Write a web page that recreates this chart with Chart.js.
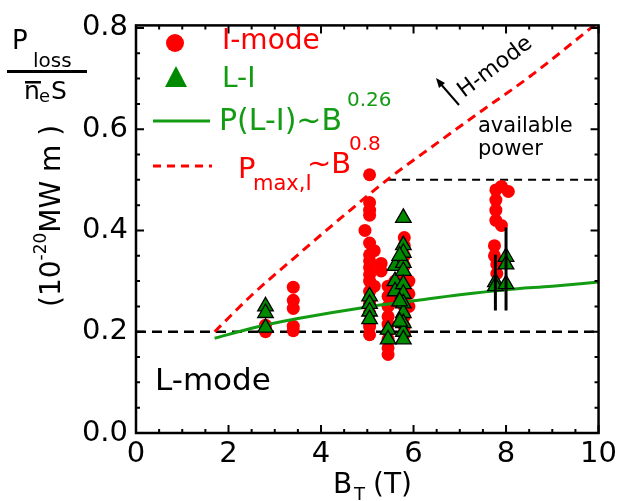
<!DOCTYPE html>
<html>
<head>
<meta charset="utf-8">
<script src="https://cdn.jsdelivr.net/npm/chart.js@4.4.0/dist/chart.umd.min.js"></script>
<style>
html, body { margin: 0; padding: 0; background: #fff; }
</style>
</head>
<body>
<canvas id="graph" width="621" height="501"></canvas>
<script>
// I-mode points (B_T, Ploss/neS)
var imodeB = [2.8, 2.8,
  3.4, 3.4, 3.4, 3.4, 3.4,
  5.05, 5.05, 5.05, 5.05, 5.05, 5.05, 5.05, 5.05, 5.05, 5.05, 5.05, 5.05, 5.05, 5.05, 5.05, 5.05,
  4.95, 5.15, 5.15, 5.3, 5.3,
  5.45, 5.45, 5.45, 5.45, 5.45, 5.45, 5.45, 5.45, 5.45,
  5.6, 5.6,
  5.8, 5.8, 5.8, 5.8, 5.8, 5.8, 5.8, 5.8, 5.8, 5.8, 5.8,
  5.9, 5.9, 5.9,
  7.78, 7.78, 7.78, 7.78, 7.75, 7.75, 7.8, 7.8,
  7.9, 7.9, 8.05];
var imodeP = [0.2, 0.213,
  0.288, 0.262, 0.246, 0.211, 0.202,
  0.51, 0.455, 0.44, 0.43, 0.375, 0.352, 0.34, 0.327, 0.313, 0.3, 0.28, 0.256, 0.237, 0.217, 0.194, 0.21,
  0.4, 0.36, 0.29, 0.335, 0.32,
  0.155, 0.168, 0.185, 0.2, 0.215, 0.23, 0.25, 0.27, 0.29,
  0.3, 0.26,
  0.386, 0.37, 0.35, 0.33, 0.31, 0.29, 0.27, 0.25, 0.23, 0.21, 0.195,
  0.3, 0.275, 0.25,
  0.48, 0.46, 0.44, 0.42, 0.37, 0.35, 0.333, 0.315,
  0.487, 0.41, 0.477];

// L-I transition points
var liB = [2.8, 2.8, 2.8,
  5.05, 5.05, 5.05, 5.05,
  5.45, 5.45,
  5.6, 5.6, 5.6,
  5.78, 5.78, 5.78, 5.78, 5.78, 5.78, 5.78, 5.78, 5.78, 5.78, 5.78, 5.78,
  5.7, 5.7, 5.7,
  7.77, 7.77,
  8.0, 8.0, 8.0];
var liP = [0.25, 0.237, 0.208,
  0.27, 0.255, 0.24, 0.225,
  0.204, 0.185,
  0.3, 0.28, 0.33,
  0.425, 0.371, 0.356, 0.336, 0.32, 0.294, 0.275, 0.256, 0.237, 0.217, 0.2, 0.185,
  0.35, 0.26, 0.22,
  0.298, 0.29,
  0.348, 0.333, 0.294];

// error bars on the 8 T points
var errB = [7.77, 8.0];
var errLo = [0.242, 0.242];
var errHi = [0.352, 0.406];

// P(L-I) ~ B^0.26 curve
var fitB = [1.7, 2.5, 3.5, 5, 6, 7, 8, 9, 10];
var fitP = [0.187, 0.207, 0.226, 0.249, 0.261, 0.273, 0.283, 0.29, 0.298];

// Pmax,I ~ B^0.8 curve
var pmaxB = [1.7, 2.5, 3.5, 4.5, 5.5, 6.5, 7.5, 8.5, 10];
var pmaxP = [0.2, 0.272, 0.352, 0.43, 0.505, 0.572, 0.638, 0.703, 0.812];

// horizontal dashed lines
var lowB = [0, 10];
var lowP = [0.2, 0.2];
var availB = [5.45, 10];
var availP = [0.5, 0.5];

var xTicks = [0, 2, 4, 6, 8, 10];
var yTicks = [0.0, 0.2, 0.4, 0.6, 0.8];

var RED = '#ff0000';
var GREEN = '#139c13';
var TRI = '#008a00';

function pts(xs, ys) {
  return xs.map(function (x, i) { return { x: x, y: ys[i] }; });
}

var errSets = errB.map(function (b, i) {
  return {
    data: [{ x: b, y: errLo[i] }, { x: b, y: errHi[i] }],
    showLine: true, borderColor: '#000', borderWidth: 3, pointRadius: 0, order: 0
  };
});

Chart.defaults.font.family = 'DejaVu Sans';
Chart.defaults.color = '#000';

function txt(ctx, s, x, y, size, color) {
  ctx.font = size + 'px "DejaVu Sans"';
  ctx.fillStyle = color;
  ctx.textAlign = 'left';
  ctx.textBaseline = 'alphabetic';
  ctx.fillText(s, x, y);
}

const overlay = {
  id: 'overlay',
  afterDraw(chart) {
    const ctx = chart.ctx, a = chart.chartArea;
    const xs = chart.scales.x, ys = chart.scales.y;
    ctx.save();
    // frame
    ctx.strokeStyle = '#000';
    ctx.lineWidth = 2.5;
    ctx.strokeRect(a.left, a.top, a.right - a.left, a.bottom - a.top);
    // inward ticks on all sides
    ctx.lineWidth = 2;
    ctx.beginPath();
    for (let k = 0; k <= 20; k++) {
      let px = xs.getPixelForValue(k * 0.5);
      let len = k % 4 == 0 ? 8 : 4;
      ctx.moveTo(px, a.bottom); ctx.lineTo(px, a.bottom - len);
      ctx.moveTo(px, a.top); ctx.lineTo(px, a.top + len);
    }
    for (let k = 0; k <= 16; k++) {
      let py = ys.getPixelForValue(k * 0.05);
      let len = k % 4 == 0 ? 8 : 4;
      ctx.moveTo(a.left, py); ctx.lineTo(a.left + len, py);
      ctx.moveTo(a.right, py); ctx.lineTo(a.right - len, py);
    }
    ctx.stroke();

    // legend
    ctx.fillStyle = RED;
    ctx.beginPath(); ctx.arc(175, 43, 9, 0, Math.PI * 2); ctx.fill();
    txt(ctx, 'I-mode', 222, 49, 28, RED);
    ctx.fillStyle = TRI;
    ctx.beginPath();
    ctx.moveTo(176, 66); ctx.lineTo(187, 87); ctx.lineTo(165, 87); ctx.closePath(); ctx.fill();
    txt(ctx, 'L-I', 222, 87, 28, GREEN);
    ctx.strokeStyle = GREEN; ctx.lineWidth = 3;
    ctx.beginPath(); ctx.moveTo(153, 121); ctx.lineTo(210, 121); ctx.stroke();
    txt(ctx, 'P(L-I)~B', 219, 130, 30, GREEN);
    txt(ctx, '0.26', 347, 106, 20, GREEN);
    ctx.strokeStyle = RED; ctx.setLineDash([8, 6]);
    ctx.beginPath(); ctx.moveTo(153, 166); ctx.lineTo(212, 166); ctx.stroke();
    ctx.setLineDash([]);
    txt(ctx, 'P', 238, 178, 29, RED);
    txt(ctx, 'max,I', 253, 190, 21, RED);
    txt(ctx, '~B', 307, 173, 29, RED);
    txt(ctx, '0.8', 349, 150, 20, RED);

    // y title fraction
    txt(ctx, 'P', 12, 49, 26, '#000');
    txt(ctx, 'loss', 33, 67, 20, '#000');
    ctx.fillStyle = '#000';
    ctx.fillRect(7, 70, 80, 3);
    ctx.fillRect(25, 81, 16, 2.5);
    txt(ctx, 'n', 24, 99, 25, '#000');
    txt(ctx, 'e', 39, 102, 18, '#000');
    txt(ctx, 'S', 51, 99, 25, '#000');
    // rotated unit
    ctx.save();
    ctx.translate(60, 307);
    ctx.rotate(-Math.PI / 2);
    ctx.font = '28px "DejaVu Sans"';
    let w1 = ctx.measureText('(10').width;
    txt(ctx, '(10', 0, 0, 28, '#000');
    txt(ctx, '-20', w1, -14, 17, '#000');
    ctx.font = '17px "DejaVu Sans"';
    let w2 = ctx.measureText('-20').width;
    txt(ctx, 'MW m )', w1 + w2, 0, 28, '#000');
    ctx.restore();

    // x title
    txt(ctx, 'B', 333, 493, 28, '#000');
    txt(ctx, 'T', 354, 500, 18, '#000');
    txt(ctx, '(T)', 373, 493, 28, '#000');

    // annotations
    txt(ctx, 'L-mode', 155, 390, 31, '#000');
    txt(ctx, 'available', 478, 132, 21, '#000');
    txt(ctx, 'power', 478, 155, 21, '#000');
    ctx.save();
    ctx.translate(464, 98);
    ctx.rotate(-37 * Math.PI / 180);
    txt(ctx, 'H-mode', 0, 0, 22, '#000');
    ctx.restore();
    ctx.strokeStyle = '#000'; ctx.lineWidth = 2;
    ctx.beginPath(); ctx.moveTo(459, 105); ctx.lineTo(439, 82); ctx.stroke();
    ctx.fillStyle = '#000';
    ctx.beginPath();
    ctx.moveTo(436, 78); ctx.lineTo(445, 83); ctx.lineTo(439, 88); ctx.closePath(); ctx.fill();
    ctx.restore();
  }
};

let graph = document.getElementById('graph').getContext('2d');
const myChart = new Chart(graph, {
  type: 'scatter',
  data: {
    datasets: errSets.concat([{
      data: pts(liB, liP),
      pointStyle: 'triangle', pointRadius: 9,
      backgroundColor: TRI, borderColor: '#000', borderWidth: 1.3,
      order: 1
    }, {
      data: pts(fitB, fitP),
      showLine: true, pointRadius: 0, borderColor: GREEN, borderWidth: 3,
      cubicInterpolationMode: 'monotone', order: 2
    }, {
      data: pts(imodeB, imodeP),
      pointRadius: 6.5, backgroundColor: RED, borderWidth: 0,
      order: 3
    }, {
      data: pts(pmaxB, pmaxP),
      showLine: true, pointRadius: 0, borderColor: RED, borderWidth: 3,
      borderDash: [9, 6], cubicInterpolationMode: 'monotone', order: 4
    }, {
      data: pts(lowB, lowP),
      showLine: true, pointRadius: 0, borderColor: '#000', borderWidth: 2.5,
      borderDash: [10, 6], order: 5
    }, {
      data: pts(availB, availP),
      showLine: true, pointRadius: 0, borderColor: '#000', borderWidth: 2,
      borderDash: [8, 6], order: 5
    }])
  },
  options: {
    responsive: false,
    animation: false,
    devicePixelRatio: 1,
    events: [],
    layout: { padding: { top: 15, right: 19, left: 0, bottom: 0 } },
    scales: {
      x: {
        min: 0, max: 10,
        grid: { display: false, drawTicks: false },
        border: { display: false },
        afterBuildTicks: function (s) { s.ticks = xTicks.map(function (v) { return { value: v }; }); },
        afterFit: function (s) { s.height = 68; },
        ticks: { padding: 4, font: { size: 29 }, color: '#000', maxRotation: 0,
          callback: function (v) { return v; } }
      },
      y: {
        min: 0, max: 0.805,
        grid: { display: false, drawTicks: false },
        border: { display: false },
        afterBuildTicks: function (s) { s.ticks = yTicks.map(function (v) { return { value: v }; }); },
        afterFit: function (s) { s.width = 136; },
        ticks: { padding: 8, font: { size: 29 }, color: '#000',
          callback: function (v) { return v.toFixed(1); } }
      }
    },
    plugins: {
      legend: { display: false },
      tooltip: { enabled: false }
    }
  },
  plugins: [overlay]
});
</script>
</body>
</html>
